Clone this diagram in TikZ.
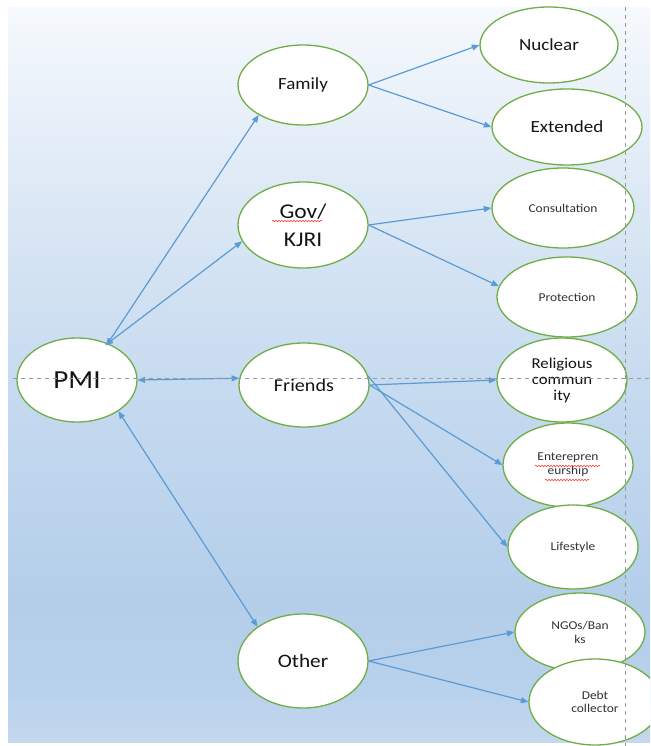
\documentclass[tikz,border=0pt]{standalone}
\usepackage{fontspec}
\setmainfont{Carlito}[FakeStretch=1.12]
\usetikzlibrary{arrows.meta,shapes.geometric,decorations.pathmorphing,calc}
\definecolor{bgtop}{HTML}{F6F9FD}
\definecolor{bgup}{HTML}{DCE8F5}
\definecolor{bgmid}{HTML}{C7DBF0}
\definecolor{bglow}{HTML}{B4CEEA}
\definecolor{bglow2}{HTML}{B8D1EC}
\definecolor{bgbot}{HTML}{C4D8EE}
\definecolor{ringgreen}{HTML}{70AD47}
\definecolor{arrowblue}{HTML}{5B9BD5}
\definecolor{txtdark}{HTML}{141414}
\definecolor{txtgrey}{HTML}{333333}
\definecolor{dashgrey}{HTML}{9A9A9A}
\pgfdeclareverticalshading{bgshade}{100bp}{color(0bp)=(bgbot); color(25bp)=(bgbot); color(28.5bp)=(bglow2); color(34.7bp)=(bglow); color(49.7bp)=(bgmid); color(61.9bp)=(bgup); color(75bp)=(bgtop); color(100bp)=(bgtop)}
\tikzset{
  oval/.style={ellipse, draw=ringgreen, line width=1.3pt, fill=white, inner sep=0pt, align=center, text=txtdark},
  smalltxt/.style={text=txtgrey, font=\fontsize{12}{14}\selectfont},
  arr/.style={draw=arrowblue, line width=1.2pt, -{Triangle[length=7.5pt,width=6pt]}},
  darr/.style={draw=arrowblue, line width=1.2pt, {Triangle[length=7.5pt,width=6pt]}-{Triangle[length=7.5pt,width=6pt]}},
  guide/.style={draw=dashgrey, line width=0.9pt, dash pattern=on 4pt off 4pt},
  squiggle/.style={draw=red!75, line width=0.6pt, decorate, decoration={snake, amplitude=0.8pt, segment length=3pt}}
}
\begin{document}
\begin{tikzpicture}[x=1pt,y=-1pt]
\useasboundingbox (0,0) rectangle (650,746);
\clip (0,0) rectangle (650,746);
\fill[white] (0,0) rectangle (650,746);
\shade[shading=bgshade] (8,8) rectangle (650,742);

% level 0
\node[oval, minimum width=120pt, minimum height=84pt, font=\fontsize{26}{30}\selectfont] (pmi) at (77,380) {PMI};
% level 1
\node[oval, minimum width=130pt, minimum height=80pt, font=\fontsize{17}{20}\selectfont] (family) at (303,85) {Family};
\node[oval, minimum width=130pt, minimum height=86pt, font=\fontsize{21}{28}\selectfont] (gov) at (303,225) {Gov/\\KJRI};
\node[oval, minimum width=130pt, minimum height=84pt, font=\fontsize{18}{21}\selectfont] (friends) at (304,385) {Friends};
\node[oval, minimum width=130pt, minimum height=94pt, font=\fontsize{19}{22}\selectfont] (other) at (303,661) {Other};
% level 2
\node[oval, minimum width=138pt, minimum height=76pt, font=\fontsize{17}{20}\selectfont] (nuclear) at (549,45) {Nuclear};
\node[oval, minimum width=150pt, minimum height=76pt, font=\fontsize{17}{20}\selectfont] (extended) at (567,127) {Extended};
\node[oval, smalltxt, minimum width=142pt, minimum height=80pt] (consult) at (563,208) {Consultation};
\node[oval, smalltxt, minimum width=140pt, minimum height=80pt] (protect) at (567,297) {Protection};
\node[oval, minimum width=130pt, minimum height=84pt, font=\fontsize{15}{16}\selectfont] (relig) at (562,380) {Religious\\commun\\ity};
\node[oval, smalltxt, minimum width=130pt, minimum height=84pt] (entre) at (568,465) {Enterepren\\eurship};
\node[oval, smalltxt, minimum width=130pt, minimum height=84pt] (life) at (573,547) {Lifestyle};
\node[oval, smalltxt, minimum width=130pt, minimum height=78pt] (ngo) at (580,632) {NGOs/Ban\\ks};
\node[oval, smalltxt, minimum width=132pt, minimum height=86pt, font=\fontsize{12}{13}\selectfont] (debt) at (595,702) {Debt\\collector};

% spell-check marks
\draw[squiggle] ($(gov.center)+(-31,-4)$) -- ($(gov.center)+(19,-4)$);
\draw[squiggle] ($(entre.center)+(-33,1)$) -- ($(entre.center)+(32,1)$);
\draw[squiggle] ($(entre.center)+(-23,15)$) -- ($(entre.center)+(21,15)$);

% connectors
\draw[arr] (family.east) -- (nuclear.west);
\draw[arr] (family.east) -- (extended.west);
\draw[darr, shorten <=-3pt] (pmi.50) -- (family.214);
\draw[darr, shorten <=-3pt] (pmi.50) -- (gov.195);
\draw[arr] (gov.east) -- (consult.west);
\draw[arr] (gov.east) -- (protect.171);
\draw[darr] (pmi.east) -- (friends.174);
\draw[arr] (friends.east) -- (relig.west);
\draw[arr] (friends.east) -- (entre.west);
\draw[arr] (friends.8) -- (life.west);
\draw[darr] (pmi.323) -- (other.143);
\draw[arr] (other.east) -- (ngo.west);
\draw[arr] (other.east) -- (debt.west);

% guide lines
\coordinate (hl) at (13,378);
\coordinate (hr) at (650,378);
\coordinate (vt) at (625,7);
\coordinate (vb) at (625,746);
\draw[guide] (hl) -- (hr);
\draw[guide] (vt) -- (vb);
\end{tikzpicture}
\end{document}
